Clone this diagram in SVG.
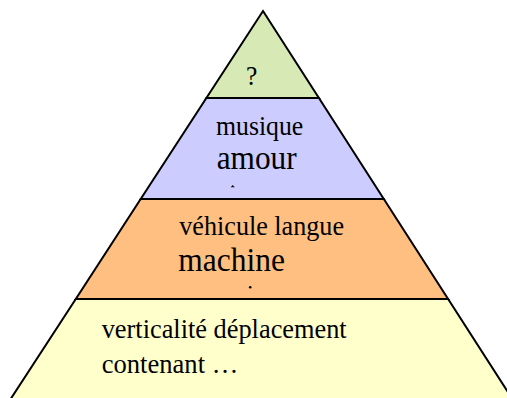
<svg xmlns="http://www.w3.org/2000/svg" width="507" height="398" viewBox="0 0 507 398">
  <style>
    .band { stroke: #000; stroke-width: 2; stroke-linejoin: miter; }
    .t { font-family: "Liberation Serif", "Times New Roman", serif; fill: #000; }
    .s { font-size: 27px; }
    .l { font-size: 33px; }
  </style>
  <rect width="507" height="398" fill="#fff"/>
  <g id="level-4">
    <polygon class="band" points="263,11 318.9,98 206.4,98" fill="#d7e9b5"/>
    <text class="t s" x="246" y="85" textLength="11.3" lengthAdjust="spacingAndGlyphs">?</text>
  </g>
  <g id="level-3">
    <polygon class="band" points="206.4,98 318.9,98 383.8,199 140.7,199" fill="#ccccff"/>
    <text class="t s" x="216" y="135" textLength="87.3" lengthAdjust="spacingAndGlyphs">musique</text>
    <text class="t l" x="216.7" y="169.3" textLength="80" lengthAdjust="spacingAndGlyphs">amour</text>
    <path d="M230.7,187.3 L232.7,185 L234.7,187.3 Z" fill="#000"/>
  </g>
  <g id="level-2">
    <polygon class="band" points="140.7,199 383.8,199 448.1,299 75.8,299" fill="#ffbf80"/>
    <text class="t s" x="179.3" y="235" textLength="164.7" lengthAdjust="spacingAndGlyphs">véhicule langue</text>
    <text class="t l" x="178.3" y="270.7" textLength="106.7" lengthAdjust="spacingAndGlyphs">machine</text>
    <circle cx="250.2" cy="287.2" r="1.3" fill="#000"/>
  </g>
  <g id="level-1">
    <polygon class="band" points="75.8,299 448.1,299 513,400 10,400" fill="#ffffcc"/>
    <text class="t s" x="101.7" y="338.3" textLength="245" lengthAdjust="spacingAndGlyphs">verticalité déplacement</text>
    <text class="t s" x="101.7" y="373.3" textLength="136.6" lengthAdjust="spacingAndGlyphs">contenant …</text>
  </g>
  <g id="connectors"/>
</svg>
